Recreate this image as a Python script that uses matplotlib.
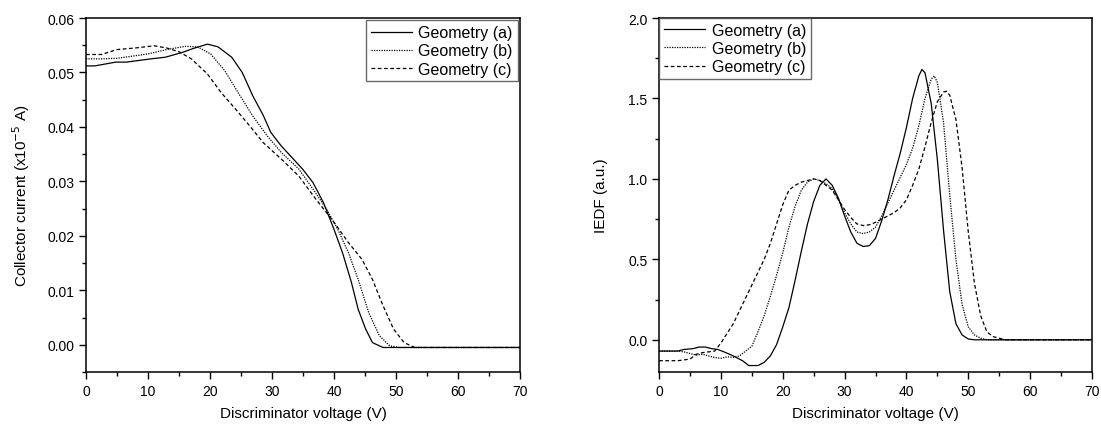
import numpy as np
import matplotlib
matplotlib.use("Agg")
import matplotlib.pyplot as plt

plt.rcParams['font.family'] = ['Liberation Sans', 'DejaVu Sans']

# ---- left panel: collector current vs discriminator voltage ----
v_a = [0, 1.4, 4.8, 6.5, 10.5, 12.8, 15.6, 17.3, 19.6, 21.3, 23.5, 25.2, 26.9, 28.6,
       29.8, 31.5, 33.2, 34.9, 36.6, 38.3, 40, 41.4, 42.8, 43.9, 45.1, 46.2, 47.9, 55, 70]
i_a = [0.0512, 0.0512, 0.0519, 0.0519, 0.0525, 0.0528, 0.0537, 0.0544, 0.0552, 0.0547,
       0.0528, 0.0500, 0.0457, 0.0421, 0.0390, 0.0365, 0.0344, 0.0323, 0.0298, 0.0261,
       0.0212, 0.0168, 0.0115, 0.0065, 0.0029, 0.0004, -0.0005, -0.0005, -0.0005]

v_b = [0, 2.5, 5, 10, 13, 16, 18, 20.1, 22.4, 24.7, 26.9, 29.2, 31.5, 34.3, 36.6,
       38.8, 40.6, 42.3, 43.9, 45.6, 47.3, 49, 50.5, 70]
i_b = [0.0525, 0.0525, 0.0526, 0.0534, 0.0542, 0.0548, 0.0547, 0.0534, 0.0503, 0.0460,
       0.0420, 0.0384, 0.0353, 0.0323, 0.0286, 0.0249, 0.0212, 0.0170, 0.0120, 0.0059,
       0.0017, -0.0002, -0.0005, -0.0005]

v_c = [0, 2.5, 5, 8, 11, 13, 15, 17, 19.6, 21.8, 24.1, 26.4, 28.6, 31.5, 34.3, 37.1,
       40, 42.3, 44.5, 46.2, 47.9, 49.6, 51.3, 53, 70]
i_c = [0.0533, 0.0533, 0.0542, 0.0545, 0.0549, 0.0545, 0.0538, 0.0525, 0.0497, 0.0463,
       0.0433, 0.0402, 0.0371, 0.0341, 0.0310, 0.0267, 0.0225, 0.0188, 0.0157, 0.0120,
       0.0072, 0.0029, 0.0004, -0.0005, -0.0005]

# ---- right panel: IEDF ----
e_a = [0, 3, 4, 5.5, 6.5, 7.5, 8.5, 9.5, 10.5, 12, 13.5, 14.5, 16, 17, 18, 19, 20, 21,
       22, 23, 24, 25, 26, 27, 28, 29, 30, 31, 32, 33, 34, 35, 36, 37, 38, 39, 40, 41,
       42, 42.5, 43, 44, 45, 46, 47, 48, 49, 50, 51, 70]
f_a = [-0.07, -0.07, -0.06, -0.055, -0.045, -0.045, -0.055, -0.06, -0.075, -0.1, -0.13,
       -0.16, -0.16, -0.14, -0.1, -0.03, 0.08, 0.2, 0.37, 0.55, 0.72, 0.86, 0.96, 1.0,
       0.96, 0.88, 0.77, 0.67, 0.6, 0.58, 0.585, 0.63, 0.74, 0.87, 1.02, 1.16, 1.32, 1.5,
       1.64, 1.68, 1.66, 1.47, 1.12, 0.68, 0.3, 0.1, 0.03, 0.005, 0.0, 0.0]

e_b = [0, 3, 4, 5, 6, 7, 8, 9, 10, 11, 12, 13, 14, 15, 16, 17, 18, 19, 20, 21, 22, 23,
       24, 25, 26, 27, 28, 29, 30, 31, 32, 33, 34, 35, 36, 37, 38, 39, 40, 41, 42, 43,
       44, 44.5, 45, 46, 47, 48, 49, 50, 51, 52, 53, 70]
f_b = [-0.07, -0.07, -0.075, -0.085, -0.095, -0.09, -0.1, -0.11, -0.115, -0.105, -0.11,
       -0.1, -0.07, -0.04, 0.05, 0.15, 0.27, 0.4, 0.54, 0.7, 0.83, 0.93, 0.98, 1.0, 0.99,
       0.97, 0.94, 0.87, 0.79, 0.72, 0.67, 0.66, 0.67, 0.7, 0.77, 0.85, 0.93, 1.01, 1.09,
       1.19, 1.33, 1.5, 1.62, 1.64, 1.6, 1.35, 0.9, 0.5, 0.22, 0.08, 0.03, 0.01, 0.0, 0.0]

e_c = [0, 3, 4, 5, 6, 7, 8, 9, 10, 11, 12, 13, 14, 15, 16, 17, 18, 19, 20, 21, 22, 23,
       24, 25, 26, 27, 28, 29, 30, 31, 32, 33, 34, 35, 36, 37, 38, 39, 40, 41, 42, 43,
       44, 45, 46, 46.5, 47, 48, 49, 50, 51, 52, 53, 54, 55, 56, 70]
f_c = [-0.13, -0.13, -0.125, -0.12, -0.09, -0.08, -0.075, -0.07, -0.02, 0.04, 0.1, 0.18,
       0.26, 0.34, 0.42, 0.5, 0.6, 0.72, 0.84, 0.93, 0.96, 0.98, 0.99, 1.0, 0.99, 0.96,
       0.93, 0.87, 0.81, 0.76, 0.72, 0.71, 0.715, 0.73, 0.75, 0.77, 0.79, 0.82, 0.87, 0.96,
       1.06, 1.2, 1.35, 1.48, 1.54, 1.545, 1.52, 1.37, 1.07, 0.67, 0.35, 0.15, 0.05, 0.02,
       0.01, 0.0, 0.0]

labels = ["Geometry (a)", "Geometry (b)", "Geometry (c)"]
styles = [dict(ls="-"), dict(ls=(0, (1, 1))), dict(ls=(0, (3, 2)))]


def style_axes(ax):
    ax.tick_params(which="both", direction="out", labelsize=10, width=1)
    ax.tick_params(which="major", length=5)
    ax.tick_params(which="minor", length=3)
    for sp in ax.spines.values():
        sp.set_linewidth(1.1)
    ax.set_xlim(0, 70)
    ax.set_xticks(np.arange(0, 71, 10))
    ax.set_xticks(np.arange(5, 70, 10), minor=True)
    ax.set_xlabel("Discriminator voltage (V)", fontsize=11, labelpad=6)


fig = plt.figure(figsize=(11.01, 4.27), dpi=100)
ax1 = fig.add_axes([0.0781, 0.1265, 0.3942, 0.829])
ax2 = fig.add_axes([0.5986, 0.1265, 0.3932, 0.829])

for (x, y), st, lab in zip([(v_a, i_a), (v_b, i_b), (v_c, i_c)], styles, labels):
    ax1.plot(x, y, color="black", lw=0.9, label=lab, **st)
style_axes(ax1)
ax1.set_ylim(-0.005, 0.06)
ax1.set_yticks(np.arange(0, 0.061, 0.01))
ax1.set_yticks(np.arange(-0.005, 0.06, 0.01), minor=True)
ax1.yaxis.set_major_formatter(matplotlib.ticker.FormatStrFormatter("%.2f"))
ax1.set_ylabel("Collector current (x10$^{\\mathrm{-5}}$ A)", fontsize=11, labelpad=11)
leg1 = ax1.legend(loc="upper right", fontsize=11.5, frameon=True, fancybox=False,
                  borderaxespad=0.15, handlelength=2.6, labelspacing=0.2,
                  borderpad=0.3, handletextpad=0.4)
leg1.get_frame().set_edgecolor("#444444")
leg1.get_frame().set_linewidth(1.0)

for (x, y), st, lab in zip([(e_a, f_a), (e_b, f_b), (e_c, f_c)], styles, labels):
    ax2.plot(x, y, color="black", lw=0.9, label=lab, **st)
style_axes(ax2)
ax2.set_ylim(-0.2, 2.0)
ax2.set_yticks(np.arange(0, 2.01, 0.5))
ax2.set_yticks(np.arange(0.25, 2.0, 0.5), minor=True)
ax2.yaxis.set_major_formatter(matplotlib.ticker.FormatStrFormatter("%.1f"))
ax2.set_ylabel("IEDF (a.u.)", fontsize=11, labelpad=14)
leg2 = ax2.legend(loc="upper left", fontsize=11.5, frameon=True, fancybox=False,
                  borderaxespad=0.0, handlelength=2.6, labelspacing=0.2,
                  borderpad=0.3, handletextpad=0.4)
leg2.get_frame().set_edgecolor("#444444")
leg2.get_frame().set_linewidth(1.0)

fig.savefig("out.png", dpi=100)
